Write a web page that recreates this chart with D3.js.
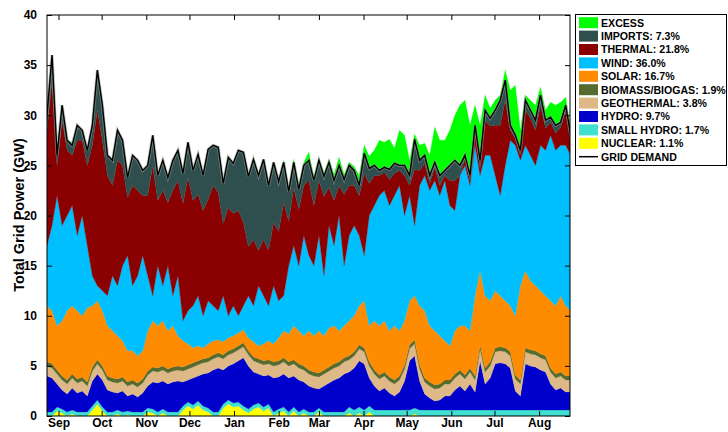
<!DOCTYPE html>
<html><head><meta charset="utf-8">
<script src="https://cdn.jsdelivr.net/npm/d3@7"></script>
<style>
body{margin:0;background:#fff}
text{font-family:"Liberation Sans",Arial,Helvetica,sans-serif;font-weight:bold;fill:#000}
</style></head>
<body><svg id="c" width="728" height="432"></svg>
<script>
// ---- data: one sample every 3.5 days, starting 24 Aug (GW) ----
const startDate = new Date(2014, 7, 24);
const endDate = new Date(2015, 7, 22, 12);
const stepDays = 3.5;

const demand = [30,36,26,31,27.5,27,29,28.5,26.5,29,
34.5,31,26,25.5,28.5,27.5,23.8,26,25.5,24.5,
25,28,24,25.5,23.8,25.5,26.5,24.2,27.3,24.5,
26.1,24,26.6,27,26.8,23.2,25.8,25.2,26.5,26.3,
23.9,25.6,24,25.6,23,25.3,23.4,25.3,22.4,25.3,
22.6,25,25.5,23.5,25.5,23.9,25.3,23.5,25,23.6,
25,24.5,23,26.2,24.7,25,24.5,24.8,24.6,25.2,
25,25,24,27.6,25.5,26,24,25.3,24,24.5,
25,25.5,25,26,24,29,25.5,30.5,29.7,30.5,
31.5,33.5,29,28,26.5,31.5,30.5,29.5,32,29.5,
29.8,29,29.3,31,28];

const excess = [0,0,0,0,0,0.3,0,0,0,0,
0,0,0,0,0,0,0,0,0,0,
0,0,0,0,0,0,0,0,0,0,
0,0,0,0,0,0,0,0,0,0,
0,0,0,0,0,0,0,0.2,0.3,0.3,
0.5,0.3,0.8,0.3,0.2,0.3,0.3,0.6,0.8,0.5,
0.3,0.4,1.0,0.8,1.2,1.5,3.0,2.5,3.0,1.5,
3.5,3.0,1.5,0.5,1.5,1.2,2.0,3.5,3.5,3.0,
3.5,4.5,6.0,5.5,5.0,2.0,3.5,1.5,1.0,1.0,
0.5,1.0,3.5,5.0,2.0,0.5,1.0,1.5,0.8,1.0,
1.5,2.0,2.0,0.8,0.5];

const imports = [1.5,2.5,1,1.5,1,1,1.5,1,1.5,2,
4,3.5,2,2.5,3,2.5,2,3,3,2.5,
3,3,2.5,3,2.5,3,3,3,3.5,3,
4,3.5,5,4,4.5,4,5,5,6,7,
7,8,7.5,8,6.5,6,5,4,3,2.5,
2,2,2,2.5,2,2,2.5,2,2,1.5,
2,1.5,1,2,1.5,1,0.5,0.5,1,1,
0.5,1,1,3,1,0.8,0.8,0.5,1,0.5,
1.5,2,1,0.3,0.5,0.5,0.8,1,0.8,1.5,
2.5,2,0.5,0.3,0.5,1,0.8,1,1,0.8,
0.5,0.8,0.5,0.5,0.8];

const thermal = [11.5,14.5,3,10.5,6.5,5,9.5,7.5,8,13,
17.5,15,12,9,12.5,10,5.8,10,8.5,6,
8,13,6.5,9.5,6.3,10.5,9.5,11.7,13.3,10.5,
10.1,10.5,10.1,12,11.8,7.2,10.8,9.2,10.5,8.3,
4.9,6.6,3.5,5.6,5.5,6.3,6.9,9.3,4.4,5.8,
5.6,5,7.5,6,5.5,7.9,3.8,4.5,3,7.1,
5,4,4,8.2,3.2,3,2,1.8,2.6,2.2,
1.5,4,1,5.6,1.5,1.2,0.7,1.3,1,0.5,
2.5,3,0,0.7,0.5,1.5,0.7,3.5,2.9,5,
7,6.5,1,0.7,0.5,3.5,3.7,3.5,4,2.2,
1.3,1.7,1.8,3.5,1.2];

const wind = [6,8.5,13,9.5,9.5,10,7.5,10,6.2,3,
1.5,2,3,5.5,5,7.5,9.5,6.5,8,9.5,
5.5,2.5,6,3.5,6.5,3,6,2,3.3,4.2,
5,3.2,4.3,3.5,2.9,4.6,2.2,3,1.7,2.4,
4.2,3.6,6,4.8,3.5,5.8,3.7,3.5,6.8,8,
6.5,10,7.5,7,9.5,6,10.2,8,11.5,6,
8.5,9,7,4.5,11,11.5,13,13,12.5,13,
14.5,10.5,10.5,7,12,13.5,13.5,15,14,16,
14,12,15,16,14.5,15,9.5,14,14.5,11.5,
10,13.5,16.5,17,12.5,12.5,12.5,12,14.5,14.5,
16.5,15.5,15,16,15.5];

const solar = [5.6,5.3,4.4,5.5,6.9,6.8,6.8,6.1,7.4,6.1,
5.9,5.5,5.0,4.7,4.3,3.6,3.1,2.9,2.7,2.8,
4.0,4.6,4.2,4.5,3.8,4.1,3.0,2.6,2.1,1.5,
1.5,1.1,1.4,1.4,1.3,1.3,1.3,1.3,1.3,1.3,
1.3,1.5,1.3,1.7,1.9,1.8,2.3,2.7,2.8,3.4,
3.3,3.0,3.9,3.6,4.2,3.4,3.9,3.8,3.1,3.2,
3.5,3.6,3.9,4.7,3.6,4.9,4.9,5.1,4.6,5.4,
4.5,4.4,4.4,4.4,5.9,6.7,5.6,5.4,4.8,3.9,
3.4,4.3,4.4,4.9,3.7,8.0,7.4,7.2,6.1,5.7,
5.1,4.7,4.6,5.9,9.4,7.7,6.9,6.5,6.3,6.0,
6.7,6.8,7.6,7.0,6.5];

const biomass = [0.4,0.4,0.4,0.4,0.4,0.4,0.4,0.4,0.4,0.4,
0.4,0.4,0.4,0.4,0.4,0.4,0.4,0.4,0.4,0.4,
0.4,0.4,0.4,0.4,0.4,0.4,0.4,0.4,0.4,0.4,
0.4,0.4,0.4,0.4,0.4,0.4,0.4,0.4,0.4,0.4,
0.4,0.4,0.4,0.4,0.4,0.4,0.4,0.4,0.4,0.4,
0.4,0.4,0.4,0.4,0.4,0.4,0.4,0.4,0.4,0.4,
0.4,0.4,0.4,0.4,0.4,0.4,0.4,0.4,0.4,0.4,
0.4,0.4,0.4,0.4,0.4,0.4,0.4,0.4,0.4,0.4,
0.4,0.4,0.4,0.4,0.4,0.4,0.4,0.4,0.4,0.4,
0.4,0.4,0.4,0.4,0.4,0.4,0.4,0.4,0.4,0.4,
0.4,0.4,0.4,0.4,0.4];

const geothermal = [1.0,1.0,1.0,1.0,1.0,1.0,1.0,1.0,1.0,1.0,
1.0,1.0,1.0,1.0,1.0,1.0,1.0,1.0,1.0,1.0,
1.1,1.1,1.1,1.1,1.1,1.1,1.1,1.1,1.1,1.1,
1.1,1.1,1.1,1.1,1.1,1.1,1.1,1.1,1.1,1.1,
1.1,1.1,1.1,1.1,1.1,1.2,1.2,1.2,1.2,1.2,
1.2,1.2,1.2,1.2,1.2,1.2,1.2,1.2,1.2,1.2,
1.2,1.2,1.2,1.2,1.2,1.2,1.2,1.2,1.2,1.2,
1.2,1.2,1.2,1.2,1.2,1.2,1.2,1.2,1.2,1.2,
1.2,1.2,1.2,1.2,1.2,1.2,1.2,1.2,1.2,1.2,
1.2,1.2,1.2,1.2,1.2,1.2,1.2,1.2,1.2,1.2,
1.2,1.2,1.2,1.2,1.2];

const hydro = [3.6,3.4,2.3,1.9,1.8,2.2,1.9,2.1,1.6,2.5,
2.6,2.7,2.2,2.0,1.7,2.1,1.5,1.8,1.5,1.9,
2.2,2.7,2.9,2.8,2.8,3.0,3.1,2.4,2.2,2.7,
2.5,3.2,3.5,4.2,4.4,3.4,3.4,3.9,4.1,4.8,
4.3,3.3,2.9,3.1,2.9,3.4,3.2,3.3,3.4,3.1,
3.2,2.7,2.6,2.4,1.9,2.6,2.9,3.2,3.4,3.8,
3.5,4.2,4.6,4.6,2.8,2.4,1.9,2.2,1.7,1.4,
1.8,2.9,4.9,5.2,2.9,1.6,1.2,0.9,1.0,1.4,
1.4,2.0,2.4,1.9,2.6,1.8,4.9,2.6,3.2,4.6,
4.7,4.6,4.2,1.9,1.4,4.6,4.4,4.3,4.0,3.8,
2.6,2.0,2.2,1.8,1.8];

const smallHydro = [0.4,0.4,0.4,0.4,0.4,0.4,0.4,0.4,0.4,0.4,
0.4,0.4,0.4,0.4,0.4,0.4,0.4,0.4,0.4,0.4,
0.4,0.4,0.4,0.4,0.4,0.4,0.4,0.4,0.4,0.4,
0.4,0.4,0.4,0.4,0.4,0.4,0.4,0.4,0.4,0.4,
0.4,0.4,0.4,0.4,0.4,0.4,0.4,0.4,0.4,0.4,
0.4,0.4,0.4,0.4,0.4,0.4,0.4,0.4,0.4,0.4,
0.6,0.6,0.6,0.6,0.6,0.6,0.6,0.6,0.6,0.6,
0.6,0.6,0.6,0.6,0.6,0.6,0.6,0.6,0.6,0.6,
0.6,0.6,0.6,0.6,0.6,0.6,0.6,0.6,0.6,0.6,
0.6,0.6,0.6,0.6,0.6,0.6,0.6,0.6,0.6,0.6,
0.6,0.6,0.6,0.6,0.6];

const nuclear = [0,0,0.5,0.3,0,0.2,0,0,0,0.6,
1.2,0.5,0,0,0.2,0,0.1,0,0,0,
0.4,0.3,0,0.3,0,0,0,0.6,1.0,0.7,
1.1,0.6,0.4,0,0,0.8,1.2,0.9,1.0,0.6,
0.3,0.7,0.9,0.5,0.8,0,0.3,0.5,0,0.5,
0,0.3,0,0,0.4,0,0,0,0,0,
0.3,0,0.3,0,0.4,0,0,0,0,0,
0,0,0,0.2,0,0,0,0,0,0,
0,0,0,0,0,0,0,0,0,0,
0,0,0,0,0,0,0,0,0,0,
0,0,0,0,0];

const yTicks = [0,5,10,15,20,25,30,35,40];
const legendLabels = ["EXCESS","IMPORTS: 7.3%","THERMAL: 21.8%","WIND: 36.0%","SOLAR: 16.7%",
  "BIOMASS/BIOGAS: 1.9%","GEOTHERMAL: 3.8%","HYDRO: 9.7%","SMALL HYDRO: 1.7%","NUCLEAR: 1.1%","GRID DEMAND"];

// ---- build ----
const keys = ["nuclear","smallHydro","hydro","geothermal","biomass","solar","wind","thermal","imports","excess"];
const series = {nuclear, smallHydro, hydro, geothermal, biomass, solar, wind, thermal, imports, excess};
const colors = {nuclear:"#ffff00", smallHydro:"#40e0d0", hydro:"#0000cd", geothermal:"#deb887",
  biomass:"#556b2f", solar:"#ff8c00", wind:"#00bfff", thermal:"#8b0000", imports:"#2f4f4f", excess:"#00ff00"};
const legendColors = ["#00ff00","#2f4f4f","#8b0000","#00bfff","#ff8c00","#556b2f","#deb887","#0000cd","#40e0d0","#ffff00"];

const rows = demand.map((d, i) => {
  const r = {date: new Date(startDate.getTime() + i*stepDays*864e5), demand: d};
  keys.forEach(k => r[k] = series[k][i]);
  return r;
});

const L = 47, R = 570, T = 15, B = 416;
const svg = d3.select("#c");
const x = d3.scaleTime().domain([startDate, endDate]).range([L, R]);
const y = d3.scaleLinear().domain([0, 40]).range([B, T]);

svg.append("defs").append("clipPath").attr("id","clip")
  .append("rect").attr("x",L).attr("y",T).attr("width",R-L).attr("height",B-T);

const stack = d3.stack().keys(keys)(rows);
const area = d3.area().x(d => x(d.data.date)).y0(d => y(d[0])).y1(d => y(d[1])).curve(d3.curveLinear);
const g = svg.append("g").attr("clip-path","url(#clip)");
g.selectAll("path.layer").data(stack).join("path").attr("class","layer")
  .attr("fill", d => colors[d.key]).attr("stroke", d => colors[d.key]).attr("stroke-width",0.3)
  .attr("d", area);

const line = d3.line().x(d => x(d.date)).y(d => y(d.demand)).curve(d3.curveLinear);
g.append("path").datum(rows).attr("fill","none").attr("stroke","#999").attr("stroke-opacity",0.6)
  .attr("stroke-width",3).attr("d",line);
g.append("path").datum(rows).attr("fill","none").attr("stroke","#000").attr("stroke-width",1.4)
  .attr("d",line);

// frame
svg.append("rect").attr("x",L).attr("y",T).attr("width",R-L).attr("height",B-T)
  .attr("fill","none").attr("stroke","#000").attr("stroke-width",1);

// y axis ticks (inward, both sides)
const yAxisL = d3.axisLeft(y).tickValues(yTicks).tickSize(-5).tickPadding(10).tickFormat(d3.format("d"));
const ya = svg.append("g").attr("transform",`translate(${L},0)`).call(yAxisL);
ya.select(".domain").remove();
ya.selectAll("text").attr("font-size",12).style("font-family","'Liberation Sans',Arial,sans-serif").style("font-weight","bold");
const yAxisR = d3.axisRight(y).tickValues(yTicks).tickSize(-5).tickFormat("");
svg.append("g").attr("transform",`translate(${R},0)`).call(yAxisR).select(".domain").remove();

// x axis: months
const months = d3.timeMonth.range(new Date(2014,8,1), endDate);
const xAxisB = d3.axisBottom(x).tickValues(months).tickSize(-5).tickPadding(2.5).tickFormat(d3.timeFormat("%b"));
const xa = svg.append("g").attr("transform",`translate(0,${B})`).call(xAxisB);
xa.select(".domain").remove();
xa.selectAll("text").attr("font-size",12).style("font-family","'Liberation Sans',Arial,sans-serif").style("font-weight","bold");
const xAxisT = d3.axisTop(x).tickValues(months).tickSize(-5).tickFormat("");
svg.append("g").attr("transform",`translate(0,${T})`).call(xAxisT).select(".domain").remove();
svg.selectAll(".tick line").attr("stroke","#000");

// y label
svg.append("text").attr("transform","translate(24,215) rotate(-90)").attr("text-anchor","middle")
  .attr("font-size",14.5).text("Total Grid Power (GW)");

// legend
const lg = svg.append("g");
lg.append("rect").attr("x",575.5).attr("y",14.5).attr("width",151).attr("height",151)
  .attr("fill","#fff").attr("stroke","#000").attr("stroke-width",1);
legendLabels.forEach((lab, i) => {
  const cy = 22.7 + i*13.4;
  if (i < legendColors.length) {
    lg.append("rect").attr("x",579).attr("y",cy-5.5).attr("width",19).attr("height",11).attr("fill",legendColors[i]);
  } else {
    lg.append("line").attr("x1",579).attr("x2",598).attr("y1",cy).attr("y2",cy).attr("stroke","#000").attr("stroke-width",1.5);
  }
  lg.append("text").attr("x",601).attr("y",cy).attr("dy","0.36em").attr("font-size",10.6).text(lab);
});
</script></body></html>
